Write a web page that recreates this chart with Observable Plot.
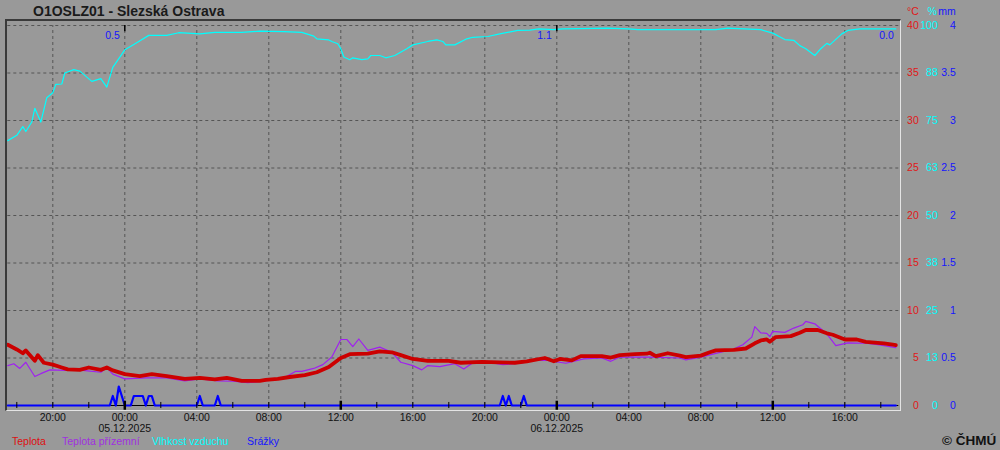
<!DOCTYPE html>
<html><head><meta charset="utf-8">
<script src="https://cdn.jsdelivr.net/npm/d3@7"></script>
<script src="https://cdn.jsdelivr.net/npm/@observablehq/plot@0.6"></script>
<style>
body{margin:0;background:#999;}
#wrap{position:relative;width:1000px;height:450px;background:#999;font-family:"Liberation Sans",Arial,sans-serif;overflow:hidden}
#wrap svg{position:absolute;left:0;top:0}
.title{position:absolute;left:33px;top:4px;font-weight:bold;font-size:14px;line-height:14px;color:#1a1a1a;white-space:nowrap}
.frame{position:absolute;left:5px;top:19px;width:896px;height:392px;box-sizing:border-box;border-left:2px solid #3a3a3a;border-top:2px solid #3a3a3a;border-right:1px solid #e4e4e4;border-bottom:1px solid #e4e4e4;pointer-events:none}
.leg{position:absolute;top:435px;font-size:10.5px;line-height:12px;white-space:nowrap}
.copy{position:absolute;left:942px;top:433px;font-weight:bold;font-size:13.5px;line-height:15px;color:#111;white-space:nowrap}
</style></head>
<body>
<div id="wrap">
  <div class="title">O1OSLZ01 - Slezská Ostrava</div>
</div>
<script>
// ---------- data (times in December 2025, "DD HH:MM") ----------
const temperature = [
 ["04 17:30",6.4],["04 18:00",5.9],["04 18:20",5.5],["04 18:30",5.8],["04 19:00",4.7],["04 19:10",5.3],["04 19:30",4.5],["04 20:00",4.3],["04 20:30",4.0],["04 20:50",3.8],["04 21:30",3.75],["04 22:00",4.0],["04 22:40",3.75],["04 23:00",4.0],["04 23:20",3.7],
 ["05 00:00",3.3],["05 00:50",3.1],["05 01:30",3.3],["05 02:20",3.1],["05 03:20",2.8],["05 04:10",2.9],["05 05:00",2.75],["05 05:40",2.9],["05 06:30",2.6],["05 07:30",2.6],["05 07:50",2.7],["05 08:30",2.8],["05 09:10",3.0],["05 10:00",3.2],["05 10:40",3.5],["05 11:20",4.05],["05 12:00",5.0],["05 12:30",5.4],["05 13:30",5.45],["05 14:10",5.7],["05 14:50",5.6],["05 15:20",5.3],["05 16:00",4.9],["05 16:50",4.7],["05 18:00",4.7],["05 18:40",4.5],["05 19:50",4.6],["05 20:50",4.55],["05 21:40",4.5],["05 22:20",4.65],["05 23:20",5.0],["05 23:50",4.65],
 ["06 00:10",4.9],["06 00:50",4.75],["06 01:20",5.2],["06 02:30",5.2],["06 03:00",5.05],["06 03:30",5.3],["06 04:20",5.4],["06 05:00",5.45],["06 05:10",5.55],["06 05:30",5.2],["06 06:10",5.5],["06 06:50",5.25],["06 07:10",5.1],["06 08:00",5.25],["06 08:30",5.6],["06 08:50",5.8],["06 09:50",5.85],["06 10:30",6.0],["06 11:00",6.55],["06 11:20",6.85],["06 11:40",6.95],["06 11:50",6.7],["06 12:10",7.2],["06 13:00",7.3],["06 13:30",7.65],["06 13:50",7.95],["06 14:30",7.95],["06 15:00",7.6],["06 15:20",7.45],["06 16:00",6.95],["06 16:40",6.95],["06 17:10",6.7],["06 18:10",6.55],["06 18:40",6.4],["06 18:50",6.35]
];
const groundTemperature = [
 ["04 17:30",4.2],["04 17:50",4.4],["04 18:10",3.9],["04 18:30",4.55],["04 19:00",3.05],["04 19:20",3.35],["04 19:50",3.75],["04 20:40",3.7],["04 21:40",3.7],["04 22:40",3.5],["04 23:00",4.0],["04 23:20",3.3],
 ["05 00:00",2.8],["05 01:10",2.9],["05 02:20",2.9],["05 03:20",2.6],["05 04:10",2.8],["05 05:10",2.6],["05 06:00",2.55],["05 06:50",2.4],["05 07:40",2.55],["05 08:50",2.9],["05 09:30",3.6],["05 09:50",3.6],["05 10:30",3.9],["05 11:00",4.3],["05 11:30",5.1],["05 12:00",6.95],["05 12:20",6.95],["05 12:40",6.2],["05 13:00",7.0],["05 13:30",5.8],["05 14:10",6.15],["05 14:50",5.6],["05 15:20",4.55],["05 16:00",4.2],["05 16:30",3.75],["05 16:50",4.2],["05 17:30",4.1],["05 18:20",4.4],["05 18:50",3.85],["05 19:20",4.5],["05 20:10",4.55],["05 21:00",4.3],["05 22:00",4.45],["05 22:40",4.75],["05 23:30",4.75],
 ["06 00:30",4.45],["06 01:30",4.9],["06 02:30",5.0],["06 03:00",4.65],["06 03:30",5.1],["06 05:10",5.1],["06 06:50",5.0],["06 07:10",4.8],["06 08:00",5.1],["06 09:50",5.95],["06 10:20",6.4],["06 10:50",7.2],["06 11:00",8.3],["06 11:20",7.65],["06 11:40",7.6],["06 11:50",7.25],["06 12:00",7.8],["06 12:40",7.7],["06 13:10",8.15],["06 13:40",8.5],["06 13:50",8.85],["06 14:20",8.6],["06 15:00",7.55],["06 15:30",6.3],["06 16:10",6.6],["06 17:10",6.55],["06 17:50",6.4],["06 18:40",6.15],["06 18:50",6.1]
];
const humidity = [
 ["04 17:30",69.7],["04 18:00",71.1],["04 18:20",73.4],["04 18:30",72.1],["04 18:50",74.6],["04 19:00",78.2],["04 19:20",74.6],["04 19:40",81.0],["04 20:00",82.3],["04 20:10",84.5],["04 20:30",84.6],["04 20:40",87.5],["04 21:10",88.4],["04 21:30",88.0],["04 22:10",85.3],["04 22:40",86.0],["04 23:00",83.8],["04 23:20",89.0],
 ["05 00:00",93.6],["05 00:30",95.0],["05 01:20",97.4],["05 02:20",97.4],["05 03:00",98.1],["05 04:10",97.8],["05 05:00",98.2],["05 06:30",98.2],["05 07:30",98.5],["05 08:50",98.4],["05 09:50",98.2],["05 10:30",97.2],["05 10:40",96.5],["05 11:20",96.2],["05 11:30",95.8],["05 11:50",95.2],["05 12:00",93.9],["05 12:10",91.7],["05 12:30",91.0],["05 12:40",91.5],["05 13:10",91.0],["05 13:30",91.2],["05 13:40",92.1],["05 14:10",92.1],["05 14:30",91.5],["05 15:00",92.1],["05 15:40",93.9],["05 16:00",94.9],["05 16:50",95.8],["05 17:20",96.2],["05 17:40",95.8],["05 17:50",94.9],["05 18:20",94.9],["05 19:00",96.5],["05 19:20",96.9],["05 20:10",97.1],["05 20:50",97.8],["05 21:50",98.7],["05 22:30",98.8],["05 23:00",99.1],["05 23:50",98.9],
 ["06 00:20",99.1],["06 02:50",99.3],["06 04:00",99.1],["06 04:30",98.9],["06 08:50",98.9],["06 09:30",99.3],["06 11:20",98.9],["06 12:00",98.0],["06 12:40",96.3],["06 13:10",96.1],["06 13:30",94.7],["06 13:50",93.9],["06 14:20",92.1],["06 14:40",93.9],["06 15:00",95.3],["06 15:10",94.9],["06 15:50",97.8],["06 16:10",98.7],["06 16:50",99.1],["06 18:50",99.1]
];
const precipitation = [
 ["04 17:30",0],["04 23:10",0],["04 23:20",0.1],["04 23:30",0],["04 23:40",0.2],["04 23:50",0.1],["05 00:00",0],["05 00:20",0],["05 00:30",0.1],["05 00:40",0.1],["05 00:50",0.1],["05 01:00",0.1],["05 01:10",0],["05 01:20",0.1],["05 01:30",0.1],["05 01:40",0],["05 04:00",0],["05 04:10",0.1],["05 04:20",0],["05 05:00",0],["05 05:10",0.1],["05 05:20",0],["05 20:50",0],["05 21:00",0.1],["05 21:10",0],["05 21:20",0.1],["05 21:30",0],["05 22:00",0],["05 22:10",0.1],["05 22:20",0],["06 18:50",0]
];
const precipSumTimes = ["05 00:00","06 00:00","06 19:00"];
const precipSumLabels = ["0.5","1.1","0.0"];
const tempTicks = [0,5,10,15,20,25,30,35,40];
const humidityTickLabels = ["0","13","25","38","50","63","75","88","100"];
const precipTickLabels = ["0","0.5","1","1.5","2","2.5","3","3.5","4"];
const unitLabels = ["°C","%","mm"];
const xTickTimes = ["04 20:00","05 00:00","05 04:00","05 08:00","05 12:00","05 16:00","05 20:00","06 00:00","06 04:00","06 08:00","06 12:00","06 16:00"];
const xTickLabels = ["20:00","00:00\n05.12.2025","04:00","08:00","12:00","16:00","20:00","00:00\n06.12.2025","04:00","08:00","12:00","16:00"];
const majorTickTimes = ["05 00:00","05 12:00","06 00:00","06 12:00"];
const midnightTimes = ["05 00:00","06 00:00"];
const legendItems = [["Teplota","#dd1010",12],["Teplota přízemní","#a030e0",62],["Vlhkost vzduchu","#00ffff",152],["Srážky","#1515ff",247]];

// ---------- helpers ----------
const parseT = d3.utcParse("%Y-%m-%d %H:%M");
const T = s => parseT("2025-12-" + s);
const RED = "#cc0000", PURPLE = "#a020f0", CYAN = "#00ffff", BLUE = "#0000ff";
const LRED = "#e01818", LBLUE = "#1515ff";
const font = "Liberation Sans, Arial, sans-serif";
const minorTicks = d3.utcHour.every(2).range(T("04 18:00"), T("06 18:01"));
const unitColors = [LRED, CYAN, LBLUE];
const columnDx = [20, 38, 57];

const chart = Plot.plot({
  width: 1000, height: 450,
  marginLeft: 7.3, marginRight: 101.7, marginTop: 25, marginBottom: 45,
  x: {type: "utc", domain: [T("04 17:30"), T("06 19:00")], axis: null},
  y: {domain: [0, 40], axis: null},
  style: {background: "transparent", fontFamily: font, overflow: "visible"},
  marks: [
    Plot.ruleY(tempTicks.filter(d => d > 0), {stroke: "#555", strokeDasharray: "3,3", strokeWidth: 1}),
    Plot.ruleX(xTickTimes, {x: d => T(d), y1: 0, y2: 40, stroke: "#555", strokeDasharray: "3,3", strokeWidth: 1}),
    Plot.line(humidity, {x: d => T(d[0]), y: d => d[1] * 0.4, stroke: CYAN, strokeWidth: 1.2}),
    Plot.line(groundTemperature, {x: d => T(d[0]), y: d => d[1], stroke: PURPLE, strokeWidth: 1.2}),
    Plot.line(temperature, {x: d => T(d[0]), y: d => d[1], stroke: RED, strokeWidth: 3.8}),
    Plot.ruleY([0], {stroke: "black", strokeWidth: 1}),
    Plot.line(precipitation, {x: d => T(d[0]), y: d => d[1] * 10, stroke: BLUE, strokeWidth: 2.2}),
    Plot.ruleX(minorTicks, {x: d => d, y1: -0.32, y2: 0.32, stroke: "black", strokeWidth: 1}),
    Plot.ruleX(majorTickTimes, {x: d => T(d), y1: -0.5, y2: 0.45, stroke: "black", strokeWidth: 2.5}),
    Plot.ruleX(midnightTimes, {x: d => T(d), y1: 40, y2: 39.35, stroke: "black", strokeWidth: 1.5}),
    Plot.text(xTickTimes, {x: d => T(d), text: (d, i) => xTickLabels[i], frameAnchor: "bottom", lineAnchor: "top", dy: 7, fontSize: 10.5, lineHeight: 1.1, fill: "#111"}),
    Plot.text(precipSumTimes, {x: d => T(d), y: 40, text: (d, i) => precipSumLabels[i], textAnchor: "end", dx: -5, dy: 10, fontSize: 10.5, fill: LBLUE}),
    Plot.text(tempTicks, {y: d => d, text: d => String(d), frameAnchor: "right", textAnchor: "end", lineAnchor: "middle", dx: 20, fontSize: 10.5, fill: LRED}),
    Plot.text(tempTicks, {y: d => d, text: (d, i) => humidityTickLabels[i], frameAnchor: "right", textAnchor: "end", lineAnchor: "middle", dx: 39, fontSize: 10.5, fill: CYAN}),
    Plot.text(tempTicks, {y: d => d, text: (d, i) => precipTickLabels[i], frameAnchor: "right", textAnchor: "end", lineAnchor: "middle", dx: 57, fontSize: 10.5, fill: LBLUE}),
    ...unitLabels.map((u, i) => Plot.text([u], {text: d => d, frameAnchor: "top-right", textAnchor: "end", lineAnchor: "middle", dx: columnDx[i], dy: -14, fontSize: 10.5, fill: unitColors[i]}))
  ]
});
const wrap = document.getElementById("wrap");
wrap.appendChild(chart);
const fr = document.createElement("div"); fr.className = "frame"; wrap.appendChild(fr);
for (const [label, color, left] of legendItems) {
  const s = document.createElement("div");
  s.className = "leg"; s.style.left = left + "px"; s.style.color = color; s.textContent = label;
  wrap.appendChild(s);
}
const c = document.createElement("div"); c.className = "copy"; c.textContent = "© ČHMÚ"; wrap.appendChild(c);
</script>
</body></html>
